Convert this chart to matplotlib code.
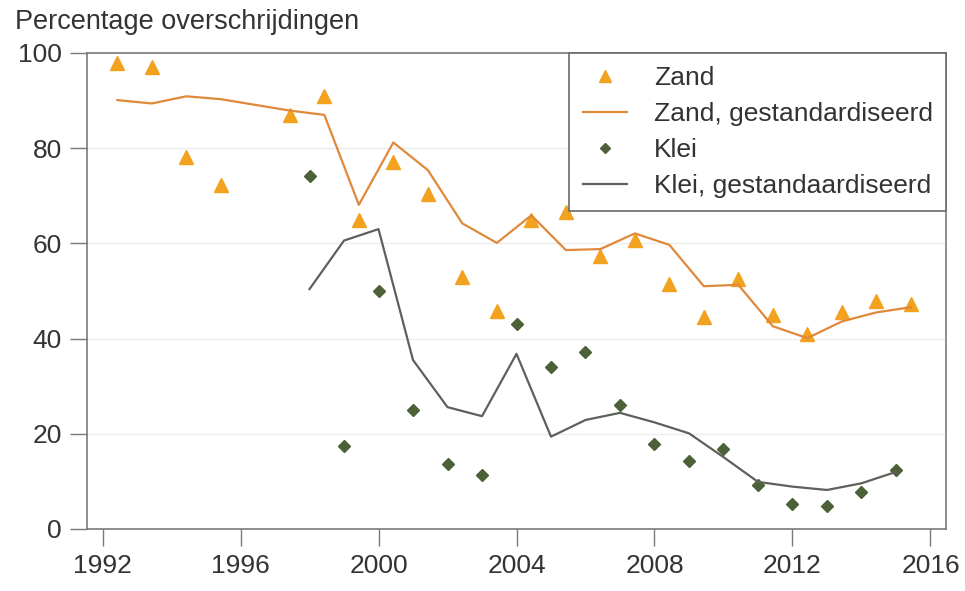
import matplotlib
matplotlib.use('Agg')
import matplotlib.pyplot as plt

plt.rcParams['font.family'] = ['Liberation Sans', 'DejaVu Sans']

# Zand: meetjaren (iets verschoven binnen het jaar) en percentages
zand_jaar = [1992.43, 1993.43, 1994.43, 1995.43, 1997.43, 1998.43, 1999.43, 2000.43,
             2001.43, 2002.43, 2003.43, 2004.43, 2005.43, 2006.43, 2007.43, 2008.43,
             2009.43, 2010.43, 2011.43, 2012.43, 2013.43, 2014.43, 2015.43]
zand_obs = [98.0, 97.0, 78.2, 72.3, 87.0, 91.0, 64.9, 77.0, 70.4, 53.0, 45.7, 64.9,
            66.5, 57.4, 60.8, 51.5, 44.6, 52.5, 45.0, 41.0, 45.5, 47.8, 47.3]
zand_std = [90.1, 89.4, 90.9, 90.3, 87.9, 87.0, 68.1, 81.2, 75.4, 64.2, 60.1, 65.9,
            58.6, 58.8, 62.1, 59.7, 51.0, 51.3, 42.6, 40.1, 43.6, 45.5, 46.6]

# Klei
klei_jaar = [1998, 1999, 2000, 2001, 2002, 2003, 2004, 2005, 2006, 2007, 2008, 2009,
             2010, 2011, 2012, 2013, 2014, 2015]
klei_obs = [74.2, 17.4, 50.1, 25.1, 13.6, 11.3, 43.1, 34.1, 37.2, 26.1, 17.8, 14.3,
            16.9, 9.2, 5.2, 4.8, 7.8, 12.4]
klei_std = [50.4, 60.6, 63.0, 35.5, 25.6, 23.7, 36.8, 19.4, 22.9, 24.4, 22.4, 20.1,
            15.1, 9.9, 8.9, 8.2, 9.6, 12.0]

x_ticks = [1992, 1996, 2000, 2004, 2008, 2012, 2016]
y_ticks = [0, 20, 40, 60, 80, 100]

fig = plt.figure(figsize=(9.65, 5.91), dpi=100)
ax = fig.add_axes([87 / 965, 1 - 529 / 591, (946 - 87) / 965, (529 - 53) / 591])

ax.plot(zand_jaar, zand_obs, linestyle='none', marker='^', markersize=10,
        color='#f2a21e', label='Zand')
ax.plot(zand_jaar, zand_std, color='#e0893a', linewidth=1.6,
        label='Zand, gestandardiseerd')
ax.plot(klei_jaar, klei_obs, linestyle='none', marker='D', markersize=6,
        color='#4d6138', label='Klei')
ax.plot(klei_jaar, klei_std, color='#5c615c', linewidth=1.6,
        label='Klei, gestandaardiseerd')

ax.set_xlim(1991.55, 2016.45)
ax.set_ylim(0, 100)
ax.set_xticks(x_ticks)
ax.set_yticks(y_ticks)
ax.grid(axis='y', color='#ededed', linewidth=1)
ax.set_axisbelow(True)

for s in ax.spines.values():
    s.set_color('#7a7a7a')
    s.set_linewidth(1.2)
ax.tick_params(length=12, width=1, color='#7a7a7a', labelsize=19,
               labelcolor='#333333', pad=6)

leg = ax.legend(loc='upper right', fontsize=19, frameon=True,
                fancybox=False, framealpha=1, edgecolor='#6a6a6a',
                handlelength=1.7, labelspacing=0.45, markerscale=0.8,
                handletextpad=1.0, borderpad=0.5, borderaxespad=0)
leg.get_frame().set_linewidth(1.2)
for t in leg.get_texts():
    t.set_color('#333333')

fig.text(15 / 965, 1 - 22 / 591, 'Percentage overschrijdingen', fontsize=19.5,
         color='#333333', ha='left', va='center')

fig.savefig('out.png', dpi=100)
